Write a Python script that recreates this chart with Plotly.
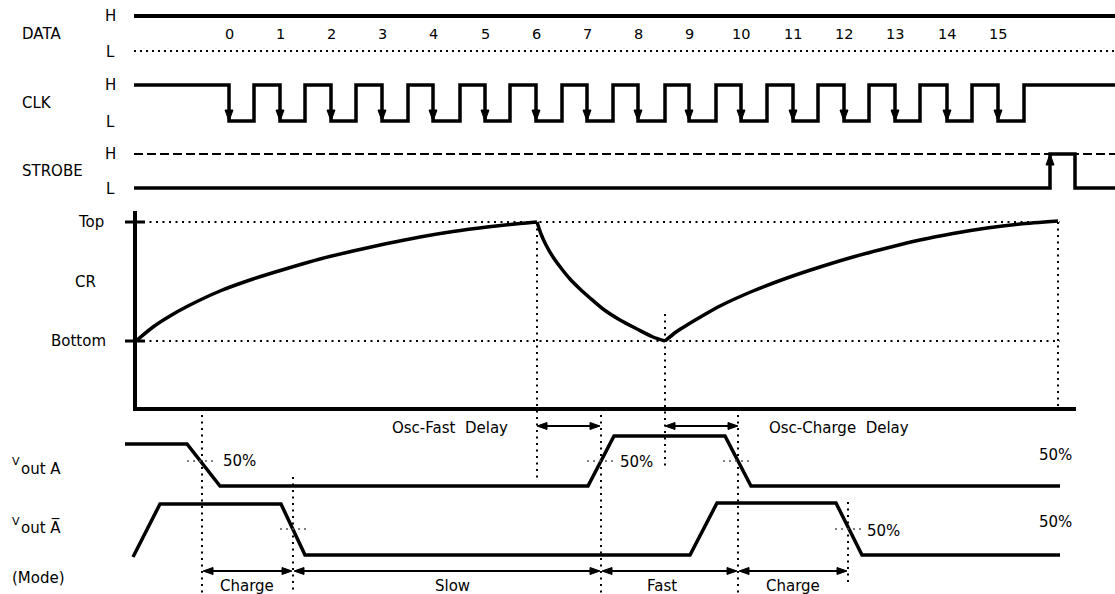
import plotly.graph_objects as go

W, H = 1115, 594
FONT = "DejaVu Sans"

# ---------------- digital rows ----------------
row_names = ["DATA", "CLK", "STROBE"]
row_label_y = [34, 103, 171]
level_H = [16, 85, 154]
level_L = [51, 121, 188]
trace_start_x = 134
trace_end_x = 1115

bit_labels = [str(i) for i in range(16)]
clk_fall_x = [229, 280, 331, 382, 433, 485, 536, 587, 638, 689, 741, 793, 844, 895, 947, 998]
clk_rise_x = [254, 305, 356, 408, 460, 510, 562, 613, 665, 716, 767, 818, 869, 920, 972, 1024]
strobe_rise_x = 1050
strobe_fall_x = 1075

# ---------------- CR ramp ----------------
cr_axis_x = 135
cr_axis_top = 211
cr_axis_bottom = 409
cr_axis_right = 1076
cr_level_names = ["Top", "Bottom"]
cr_level_y = [222, 341]
cr_level_end_x = 1060
cr_charge1_x = [136, 153, 170, 187, 220, 253, 287, 320, 353, 387, 420, 453, 487, 520, 537]
cr_charge1_y = [341, 327, 316, 306.5, 291, 279, 268.5, 259, 251, 243.5, 237, 231.5, 227, 223.5, 222]
cr_fast_x = [537, 541, 546, 553, 561, 570, 580, 590, 603, 620, 637, 653, 665]
cr_fast_y = [222, 234, 245, 257, 268, 279, 289, 298, 309, 320, 329, 337, 341]
cr_charge2_x = [665, 676, 687, 703, 720, 753, 787, 820, 853, 887, 920, 953, 987, 1020, 1058]
cr_charge2_y = [341, 332, 325, 315.5, 306, 291, 278, 267, 257, 248, 240, 233.5, 228, 224, 221]

# ---------------- outputs ----------------
vout_a_x = [125, 187, 220, 588, 614, 725, 751, 1060]
vout_a_y = [444, 444, 486, 486, 436, 436, 486, 486]
vout_abar_x = [133, 160, 281, 305, 690, 717, 836, 862, 1060]
vout_abar_y = [557, 504, 504, 555, 555, 503, 503, 555, 555]

guide_x = [537, 665, 1058, 202, 293, 601, 738, 848]
guide_y0 = [222, 314, 222, 415, 477, 415, 415, 502]
guide_y1 = [478, 470, 409, 594, 594, 594, 594, 582]

half_mark_x0 = [187, 280, 587, 723, 835]
half_mark_x1 = [217, 307, 617, 752, 862]
half_mark_y = [461, 529, 461, 461, 529]
half_text_x = [221, 618, 865, 1037, 1037]
half_text_y = [461, 462, 531, 455, 522]

delay_names = ["Osc-Fast\u00a0 Delay", "Osc-Charge\u00a0 Delay"]
delay_from_x = [537, 665]
delay_to_x = [600, 738]
delay_arrow_y = 426
delay_text_x = [450, 839]
delay_text_y = 428

mode_bounds_x = [202, 293, 601, 738, 848]
mode_names = ["Charge", "Slow", "Fast", "Charge"]
mode_text_x = [247, 452, 662, 793]
mode_arrow_y = 571
mode_text_y = 586

out_main = ["out A", "out A\u0305"]
out_v_y = [461, 521]
out_main_y = [469, 527]
mode_label_y = 578

fig = go.Figure()


def line(xs, ys, width=3.5, dash=None, color="black", shape="linear"):
    fig.add_trace(go.Scatter(
        x=xs, y=ys, mode="lines",
        line=dict(color=color, width=width, dash=dash, shape=shape, smoothing=0.7),
        hoverinfo="skip", showlegend=False))


def head(tx, ty, dx, dy, length=10, half=3.5):
    bx, by = tx - dx * length, ty - dy * length
    px, py = -dy, dx
    fig.add_trace(go.Scatter(
        x=[tx, bx + px * half, bx - px * half, tx],
        y=[ty, by + py * half, by - py * half, ty],
        mode="lines", fill="toself", fillcolor="black",
        line=dict(color="black", width=1), hoverinfo="skip", showlegend=False))


def text(x, y, s, anchor="center", size=15, color="black"):
    fig.add_annotation(x=x, y=y, text=s, showarrow=False, xanchor=anchor, yanchor="middle",
                       font=dict(family=FONT, size=size, color=color))


# DATA
line([trace_start_x, trace_end_x], [level_H[0], level_H[0]], width=4)
line([trace_start_x, trace_end_x], [level_L[0], level_L[0]], width=2, dash="2px,4px")
for lab, fx in zip(bit_labels, clk_fall_x):
    text(fx, row_label_y[0], lab, size=14.5)

# CLK
cx, cy = [trace_start_x], [level_H[1]]
for f, r in zip(clk_fall_x, clk_rise_x):
    cx += [f, f, r, r]
    cy += [level_H[1], level_L[1], level_L[1], level_H[1]]
cx.append(trace_end_x)
cy.append(level_H[1])
line(cx, cy)
for f in clk_fall_x:
    head(f, level_L[1], 0, 1, length=11, half=4)

# STROBE
line([trace_start_x, trace_end_x], [level_H[2], level_H[2]], width=2, dash="9px,4px")
line([trace_start_x, strobe_rise_x, strobe_rise_x, strobe_fall_x, strobe_fall_x, trace_end_x],
     [level_L[2], level_L[2], level_H[2], level_H[2], level_L[2], level_L[2]])
head(strobe_rise_x, level_H[2], 0, -1, length=11, half=4)

for name, ly, hy, lo in zip(row_names, row_label_y, level_H, level_L):
    text(20, ly, name, anchor="left")
    text(110, hy, "H")
    text(110, lo + 1, "L")

# CR section
for ly in cr_level_y:
    line([cr_axis_x + 8, cr_level_end_x], [ly, ly], width=2, dash="2px,4.5px")
    line([cr_axis_x - 10, cr_axis_x + 10], [ly, ly], width=3)
line([cr_axis_x, cr_axis_x, cr_axis_right], [cr_axis_top, cr_axis_bottom, cr_axis_bottom], width=4)
line(cr_charge1_x, cr_charge1_y, shape="spline")
line(cr_fast_x, cr_fast_y, shape="spline")
line(cr_charge2_x, cr_charge2_y, shape="spline")
text(106, cr_level_y[0], cr_level_names[0], anchor="right")
text(108, cr_level_y[1], cr_level_names[1], anchor="right")
text(85, 282, "CR")

# guides
for gx, g0, g1 in zip(guide_x, guide_y0, guide_y1):
    line([gx, gx], [g0, g1], width=2, dash="2px,4.5px")

# outputs
line(vout_a_x, vout_a_y)
line(vout_abar_x, vout_abar_y)
for x0, x1, y in zip(half_mark_x0, half_mark_x1, half_mark_y):
    line([x0, x1], [y, y], width=1.5, dash="2px,4px", color="#555555")
for tx, ty in zip(half_text_x, half_text_y):
    text(tx, ty, "50%", anchor="left")

# delay arrows
for name, a, b, tx in zip(delay_names, delay_from_x, delay_to_x, delay_text_x):
    line([a + 3, b - 3], [delay_arrow_y, delay_arrow_y], width=1.8)
    head(a, delay_arrow_y, -1, 0)
    head(b, delay_arrow_y, 1, 0)
    text(tx, delay_text_y, name)

# mode arrows
for i, name in enumerate(mode_names):
    a, b = mode_bounds_x[i], mode_bounds_x[i + 1]
    line([a + 3, b - 3], [mode_arrow_y, mode_arrow_y], width=1.8)
    head(a + 1, mode_arrow_y, -1, 0)
    head(b - 1, mode_arrow_y, 1, 0)
    text(mode_text_x[i], mode_text_y, name)

# output labels
for s, vy, my in zip(out_main, out_v_y, out_main_y):
    text(10, vy, "V", anchor="left", size=11)
    text(19, my, s, anchor="left")
text(10, mode_label_y, "(Mode)", anchor="left")

fig.update_layout(
    width=W, height=H,
    margin=dict(l=0, r=0, t=0, b=0),
    paper_bgcolor="white", plot_bgcolor="white",
    xaxis=dict(range=[0, W], visible=False, fixedrange=True),
    yaxis=dict(range=[H, 0], visible=False, fixedrange=True),
    showlegend=False,
)

fig.write_html("out.html", config={"displayModeBar": False},
               post_script="document.body.style.margin='0';document.body.style.overflow='hidden';")
